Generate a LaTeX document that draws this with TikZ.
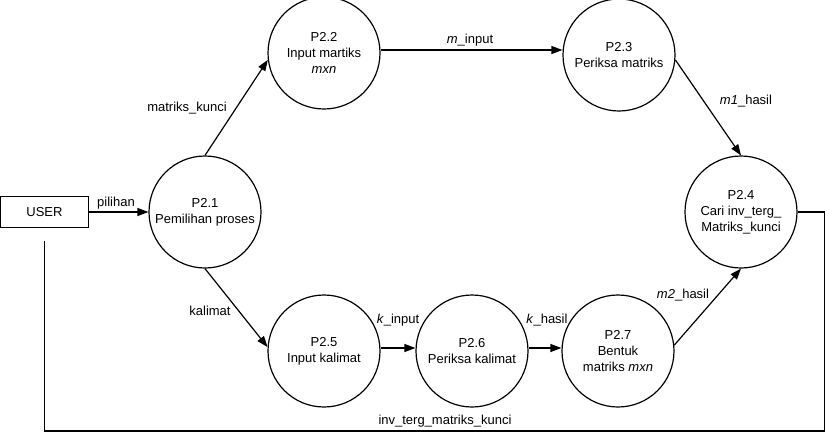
\documentclass[tikz,border=0pt]{standalone}
\usepackage{fontspec}
\setmainfont{Liberation Sans}
\usetikzlibrary{arrows.meta,positioning}

\begin{document}
\begin{tikzpicture}[
  x=1pt, y=-1pt,
  proc/.style={circle, draw, line width=1.2pt, minimum size=112pt,
    inner sep=0pt, align=center, font=\fontsize{13}{16}\selectfont},
  ent/.style={rectangle, draw, line width=1.2pt, minimum width=88pt,
    minimum height=31pt, font=\fontsize{13}{16}\selectfont},
  flow/.style={line width=1.2pt, -{Triangle[length=11pt,width=8pt]}},
  lbl/.style={font=\fontsize{13}{16}\selectfont, inner sep=1pt}
]
  \useasboundingbox (0,0) rectangle (825,432);

  % External entity
  \node[ent] (user) at (44.5,212) {USER};

  % Processes
  \node[proc] (p21) at (205,212) {P2.1\\Pemilihan proses};
  \node[proc] (p22) at (324,53) {P2.2\\Input martiks\\\textit{mxn}};
  \node[proc] (p23) at (619,55) {P2.3\\Periksa matriks};
  \node[proc] (p24) at (741,212) {P2.4\\Cari inv\_terg\_\\Matriks\_kunci};
  \node[proc] (p25) at (324,351) {P2.5\\Input kalimat};
  \node[proc] (p26) at (472,351) {P2.6\\Periksa kalimat};
  \node[proc] (p27) at (618,351) {P2.7\\Bentuk\\matriks \textit{mxn}};

  % Data flows
  \draw[flow] (user.east) -- (p21.west);
  \draw[flow] (p21.north) -- (p22.187);
  \draw[flow] (p22.east |- 0,50) -- (p23.west |- 0,50);
  \draw[flow] (p23.-5) -- (p24.north);
  \draw[flow] (p21.south) -- (p25.176);
  \draw[flow] (p25.east |- 0,348) -- (p26.west |- 0,348);
  \draw[flow] (p26.east |- 0,348) -- (p27.west |- 0,348);
  \draw[flow] (p27.6) -- (p24.south);

  % Return flow to user
  \coordinate (ret) at ([yshift=-13pt]user.south);
  \draw[line width=1.2pt] (p24.east) -| ++(27,219) -| (ret);

  % Flow labels
  \node[lbl] (lpil) at (116,203) {pilihan};
  \node[lbl] (lmk) at (187,108) {matriks\_kunci};
  \node[lbl] (lmin) at (470,40) {\textit{m}\_input};
  \node[lbl] (lm1) at (746,101) {\textit{m1}\_hasil};
  \node[lbl] (lkal) at (210,311) {kalimat};
  \node[lbl] (lkin) at (398,320) {\textit{k}\_input};
  \node[lbl] (lkhs) at (547,320) {\textit{k}\_hasil};
  \node[lbl] (lm2) at (683,295) {\textit{m2}\_hasil};
  \node[lbl] (linv) at (445,421) {inv\_terg\_matriks\_kunci};
\end{tikzpicture}
\end{document}
